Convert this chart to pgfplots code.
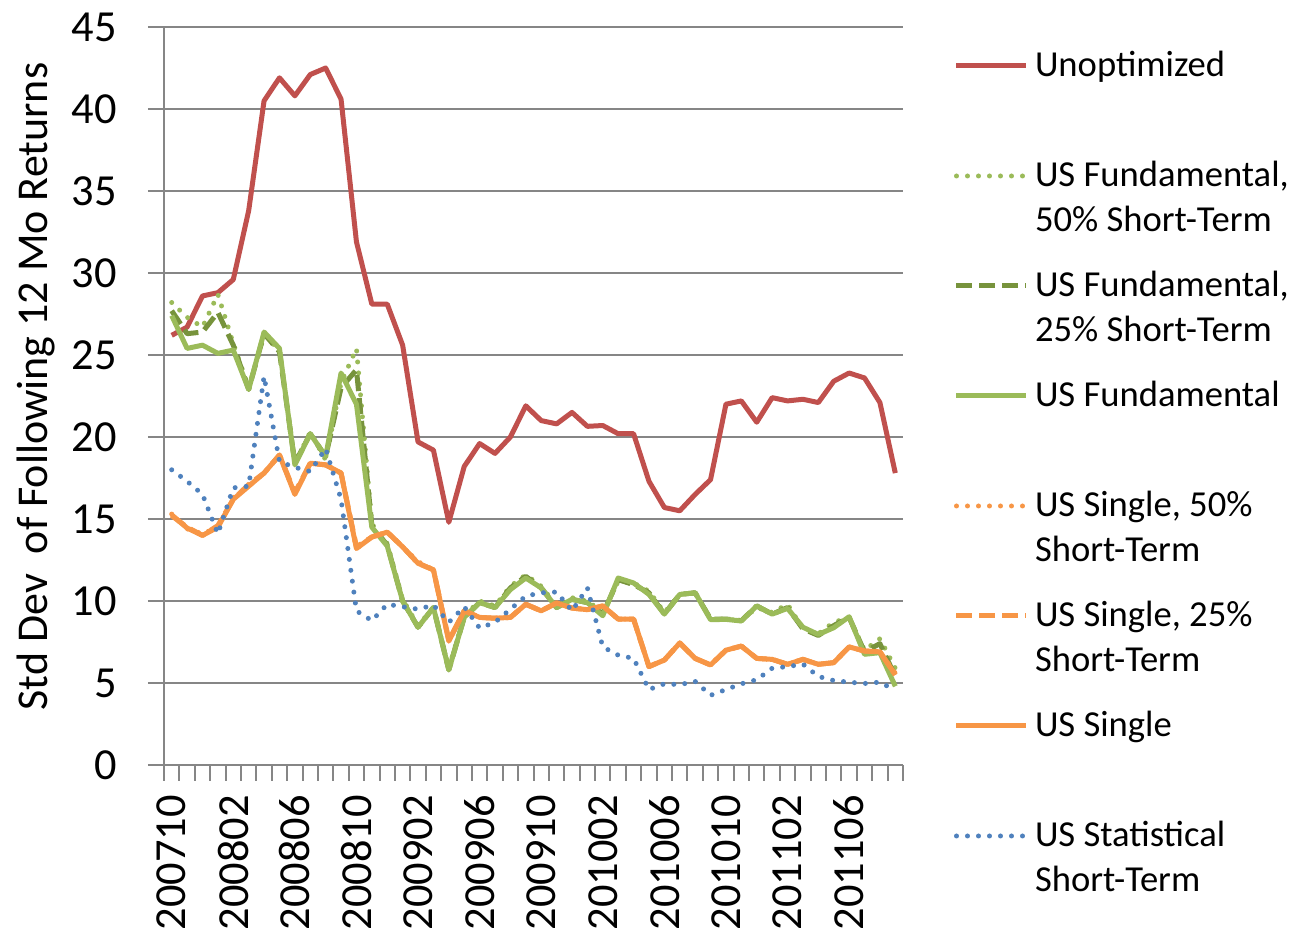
\documentclass[border=0pt]{standalone}
\usepackage{fontspec}
\setmainfont{Carlito}
\usepackage{pgfplots}
\usepackage{pgfplotstable}
\pgfplotsset{compat=1.18}
\definecolor{cRed}{HTML}{C0504D}
\definecolor{cGreen}{HTML}{9BBB59}
\definecolor{cDGreen}{HTML}{77933C}
\definecolor{cOrange}{HTML}{F79646}
\definecolor{cBlue}{HTML}{4F81BD}
\definecolor{cGrid}{HTML}{868686}

\pgfplotstableread{
i unopt f50 f25 fund s50 s25 single stat
0 26.2 28.2 27.7 27.4 15.3 15.2 15.25 18.0
1 26.7 27.3 26.3 25.4 14.4 14.5 14.45 17.3
2 28.6 26.7 26.4 25.6 14.1 14.0 14.0 16.5
3 28.8 28.7 27.6 25.1 14.5 14.6 14.5 14.1
4 29.6 25.7 25.6 25.3 16.3 16.2 16.2 16.9
5 33.8 23.0 22.9 22.9 17.0 17.1 17.0 17.0
6 40.5 26.2 26.3 26.4 17.8 17.8 17.8 23.7
7 41.9 25.3 25.2 25.4 18.9 18.9 18.9 18.5
8 40.8 18.4 18.4 18.3 16.5 16.6 16.5 18.15
9 42.1 20.3 20.2 20.2 18.4 18.4 18.4 17.9
10 42.5 18.6 18.8 18.8 18.3 18.3 18.3 19.3
11 40.6 23.3 23.0 23.9 17.8 17.8 17.8 16.2
12 31.9 25.4 24.1 22.0 13.2 13.3 13.2 9.4
13 28.1 14.7 14.6 14.5 13.9 13.9 13.9 8.8
14 28.1 13.5 13.4 13.35 14.2 14.2 14.2 9.8
15 25.6 10.1 10.0 10.0 13.3 13.3 13.3 9.65
16 19.7 8.5 8.4 8.4 12.4 12.3 12.3 9.5
17 19.2 9.6 9.6 9.6 11.9 11.9 11.9 9.75
18 14.8 5.9 5.8 5.8 7.6 7.6 7.55 8.7
19 18.2 9.1 9.0 9.0 9.4 9.4 9.4 9.65
20 19.6 10.0 9.9 9.9 9.0 9.0 9.0 8.35
21 19.0 9.7 9.6 9.6 8.95 8.95 8.95 8.7
22 20.0 10.9 10.8 10.7 9.0 9.0 9.0 9.5
23 21.9 11.6 11.5 11.4 9.8 9.8 9.8 10.3
24 21.0 10.9 10.8 10.8 9.4 9.4 9.4 10.5
25 20.8 9.7 9.6 9.6 9.88 9.88 9.88 10.55
26 21.5 10.2 10.1 10.1 9.57 9.57 9.57 9.4
27 20.65 10.0 9.9 9.9 9.47 9.47 9.47 10.8
28 20.7 9.3 9.2 9.1 9.7 9.7 9.7 7.2
29 20.2 11.2 11.3 11.4 8.9 8.9 8.9 6.7
30 20.2 11.1 11.0 11.1 8.9 8.9 8.9 6.5
31 17.3 10.6 10.5 10.4 6.0 6.0 6.0 4.6
32 15.7 9.3 9.2 9.2 6.4 6.4 6.4 4.95
33 15.5 10.4 10.4 10.4 7.44 7.44 7.44 4.9
34 16.5 10.5 10.5 10.5 6.5 6.5 6.5 5.1
35 17.4 8.9 8.9 8.86 6.1 6.1 6.1 4.25
36 22.0 8.9 8.9 8.88 7.0 7.0 7.0 4.6
37 22.2 8.8 8.8 8.78 7.25 7.25 7.25 4.95
38 20.9 9.6 9.7 9.7 6.5 6.5 6.5 5.2
39 22.4 9.3 9.2 9.2 6.44 6.44 6.44 5.9
40 22.2 9.8 9.6 9.55 6.14 6.14 6.14 6.0
41 22.3 8.3 8.3 8.4 6.44 6.44 6.44 6.15
42 22.1 8.0 7.9 7.96 6.14 6.14 6.14 5.4
43 23.4 8.7 8.5 8.37 6.24 6.24 6.24 5.15
44 23.9 9.0 9.0 9.04 7.2 7.2 7.2 5.05
45 23.6 7.0 6.9 6.75 6.95 6.95 6.95 4.97
46 22.1 7.7 7.4 6.85 6.9 6.9 6.9 5.05
47 17.8 5.9 5.4 4.8 5.6 5.5 5.5 4.55
}\datatable

\begin{document}
\begin{tikzpicture}
\useasboundingbox (-82pt,-87.5pt) rectangle (565.5pt,382.5pt);
\begin{axis}[
  at={(0,0)}, anchor=south west,
  scale only axis, width=369.5pt, height=369pt,
  xmin=-0.5, xmax=47.5, ymin=0, ymax=45,
  axis x line*=bottom, axis y line*=left,
  axis line style={cGrid, line width=1pt},
  ytick={0,5,...,45},
  ymajorgrids, major grid style={cGrid, line width=1pt},
  tick align=outside, major tick length=8pt,
  tick style={cGrid, line width=1pt},
  xtick={-0.5,0.5,...,47.5}, xticklabels={},
  extra x ticks={0,4,...,44},
  extra x tick labels={200710,200802,200806,200810,200902,200906,200910,201002,201006,201010,201102,201106},
  extra x tick style={major tick length=0pt},
  /pgf/number format/assume math mode=true,
  tick label style={font=\fontsize{22.2}{26}\selectfont, text=black},
  yticklabel style={inner sep=0pt, xshift=-15.5pt},
  xticklabel style={rotate=90, anchor=east, inner sep=0pt, xshift=-15pt},
  ylabel={Std Dev\ \ of Following 12 Mo Returns},
  ylabel style={at={(axis description cs:-0.1727,0.513)}, anchor=center, inner sep=0pt, font=\fontsize{22}{26}\selectfont},
  legend style={at={(axis description cs:1.0690,0.9702)}, anchor=north west, draw=none, fill=none,
    inner sep=0pt, outer sep=0pt, row sep=0pt, column sep=3pt,
    font=\fontsize{18.3}{22.5}\selectfont,
    cells={anchor=base west},
    nodes={inner sep=0pt, text height=14pt, text depth=41pt}},
  legend image code/.code={\draw[#1] (0pt,5.5pt) -- (35pt,5.5pt);},
  every axis plot/.append style={line width=2.5pt, line join=round},
]
\addplot[cRed] table[x=i, y=unopt] {\datatable};
\addlegendentry{Unoptimized}
\addplot[cGreen, line cap=round, dash pattern=on 0pt off 5.5pt] table[x=i, y=f50] {\datatable};
\addlegendentry{\parbox[t]{150pt}{US Fundamental,\\50\% Short-Term}}
\addplot[cDGreen, dash pattern=on 8pt off 3.5pt] table[x=i, y=f25] {\datatable};
\addlegendentry{\parbox[t]{150pt}{US Fundamental,\\25\% Short-Term}}
\addplot[cGreen] table[x=i, y=fund] {\datatable};
\addlegendentry{US Fundamental}
\addplot[cOrange, line cap=round, dash pattern=on 0pt off 5.5pt] table[x=i, y=s50] {\datatable};
\addlegendentry{\parbox[t]{150pt}{US Single, 50\%\\Short-Term}}
\addplot[cOrange, dash pattern=on 8pt off 3.5pt] table[x=i, y=s25] {\datatable};
\addlegendentry{\parbox[t]{150pt}{US Single, 25\%\\Short-Term}}
\addplot[cOrange] table[x=i, y=single] {\datatable};
\addlegendentry{US Single}
\addplot[cBlue, line cap=round, dash pattern=on 0pt off 5.5pt] table[x=i, y=stat] {\datatable};
\addlegendentry{\parbox[t]{150pt}{US Statistical\\Short-Term}}
\end{axis}
\end{tikzpicture}
\end{document}
